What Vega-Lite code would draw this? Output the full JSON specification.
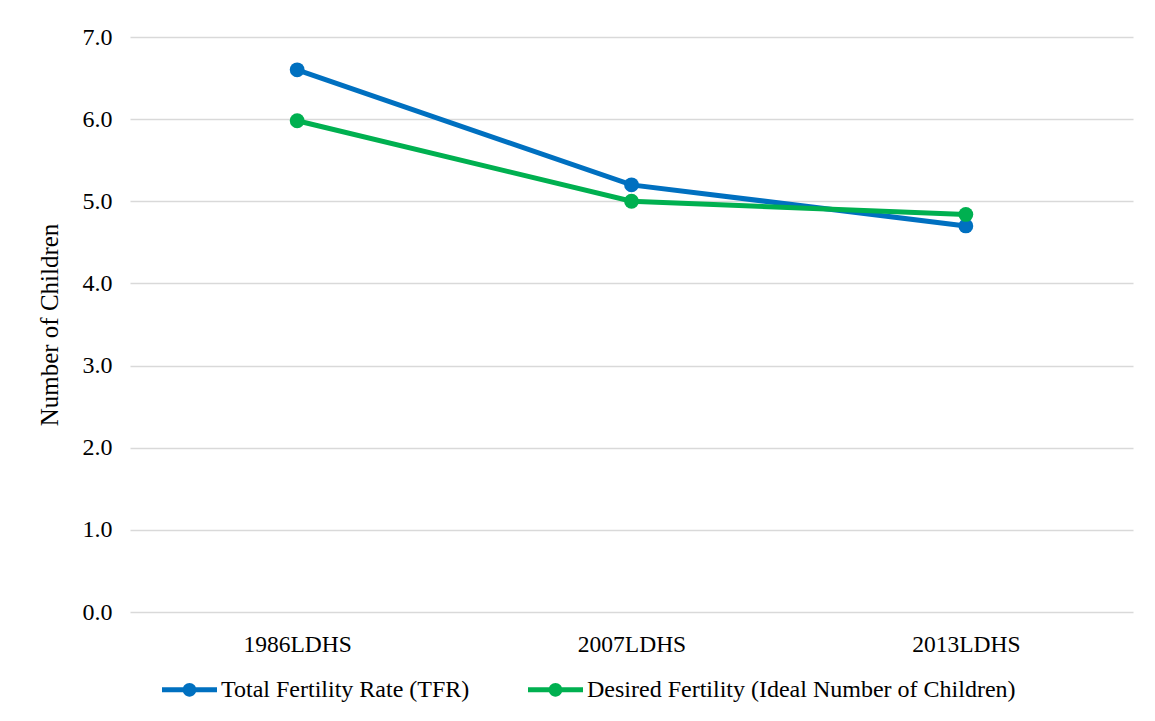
{
  "$schema": "https://vega.github.io/schema/vega-lite/v6.json",
  "autosize": "none",
  "width": 1003,
  "height": 575,
  "padding": {"left": 130, "top": 37, "right": 22, "bottom": 109},
  "background": "white",
  "data": {
    "values": [
      {"survey": "1986LDHS", "series": "Total Fertility Rate (TFR)", "value": 6.6},
      {"survey": "2007LDHS", "series": "Total Fertility Rate (TFR)", "value": 5.2},
      {"survey": "2013LDHS", "series": "Total Fertility Rate (TFR)", "value": 4.7},
      {"survey": "1986LDHS", "series": "Desired Fertility (Ideal Number of Children)", "value": 5.98},
      {"survey": "2007LDHS", "series": "Desired Fertility (Ideal Number of Children)", "value": 5.0},
      {"survey": "2013LDHS", "series": "Desired Fertility (Ideal Number of Children)", "value": 4.84}
    ]
  },
  "encoding": {
    "x": {
      "field": "survey", "type": "ordinal",
      "scale": {"type": "point", "padding": 0.5},
      "axis": {"title": null, "labelAngle": 0, "domain": false, "ticks": false, "grid": false, "labelPadding": 20, "labelFont": "Liberation Serif", "labelFontSize": 23.5, "labelColor": "#000000"}
    },
    "y": {
      "field": "value", "type": "quantitative",
      "scale": {"domain": [0, 7], "nice": false, "zero": true},
      "axis": {"title": "Number of Children", "values": [0, 1, 2, 3, 4, 5, 6, 7], "format": ".1f", "domain": false, "ticks": false, "grid": true, "gridColor": "#d9d9d9", "gridWidth": 1.5, "labelPadding": 18, "labelFont": "Liberation Serif", "labelFontSize": 24, "labelColor": "#000000", "titleFont": "Liberation Serif", "titleFontSize": 25, "titleFontWeight": "normal", "titleColor": "#000000", "titlePadding": 20}
    },
    "color": {
      "field": "series", "type": "nominal",
      "sort": ["Total Fertility Rate (TFR)", "Desired Fertility (Ideal Number of Children)"],
      "scale": {"domain": ["Total Fertility Rate (TFR)", "Desired Fertility (Ideal Number of Children)"], "range": ["#0070C0", "#00B050"]},
      "legend": {
        "title": null, "orient": "none", "direction": "horizontal", "legendX": 32, "legendY": 625,
        "padding": 0, "labelFont": "Liberation Serif", "labelFontSize": 24, "labelColor": "#000000", "labelLimit": 0,
        "labelOffset": 4, "columnPadding": 58, "symbolSize": 3025, "symbolStrokeWidth": 0,
        "symbolType": "M-1,-0.09H1V0.09H-1Z M-0.25,0A0.25,0.25 0 1,1 0.25,0A0.25,0.25 0 1,1 -0.25,0Z"
      }
    }
  },
  "layer": [
    {"mark": {"type": "line", "strokeWidth": 5}},
    {"mark": {"type": "point", "filled": true, "size": 220, "opacity": 1, "shape": "circle"}}
  ],
  "config": {"view": {"stroke": null}}
}
